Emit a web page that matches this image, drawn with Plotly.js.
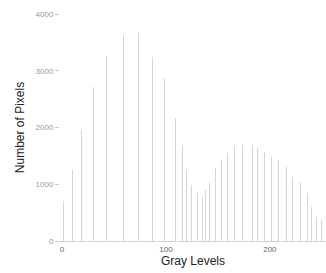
<!DOCTYPE html>
<html>
<head>
<meta charset="utf-8">
<script src="https://cdn.plot.ly/plotly-3.0.1.min.js"></script>
<style>html,body{margin:0;padding:0;background:#fff;}#chart{width:326px;height:273px;}</style>
</head>
<body>
<div id="chart"></div>
<script>
// Gray levels where histogram lines appear
var grayLevels = [1, 10, 19, 30, 43, 59, 74, 87, 99, 109, 116, 120, 125, 130, 135, 138, 142, 148, 153, 159, 166, 174, 183, 188, 195, 202, 208, 216, 222, 229, 236, 240, 245, 250];
// Number of pixels at each gray level
var pixelCounts = [700, 1250, 1950, 2710, 3260, 3630, 3660, 3240, 2870, 2170, 1690, 1250, 990, 845, 775, 900, 1020, 1285, 1430, 1550, 1670, 1690, 1690, 1640, 1570, 1480, 1430, 1300, 1130, 1040, 845, 600, 420, 370];
var xTickVals = [0, 100, 200];
var yTickVals = [0, 1000, 2000, 3000, 4000];

var trace = {
  type: 'bar',
  x: grayLevels,
  y: pixelCounts,
  width: 1,
  marker: {color: '#d6d6d6', line: {width: 0}},
  hoverinfo: 'none'
};

var layout = {
  width: 326, height: 273,
  margin: {l: 60, r: 0, t: 14, b: 32},
  paper_bgcolor: '#fff', plot_bgcolor: '#fff',
  showlegend: false,
  font: {family: 'Liberation Sans, Arial, sans-serif', color: '#999'},
  xaxis: {
    range: [-2, 254],
    tickvals: xTickVals,
    ticks: '', showgrid: false, zeroline: false,
    showline: true, linecolor: '#d0d0d0', linewidth: 1,
    tickfont: {size: 8, color: '#666'},
    ticklabelstandoff: 0,
    title: {text: 'Gray Levels', font: {size: 12, color: '#222'}, standoff: 1}
  },
  yaxis: {
    range: [0, 4000],
    tickvals: yTickVals,
    ticks: 'outside', ticklen: 4, tickcolor: '#ccc',
    showgrid: false, zeroline: false, showline: false,
    tickfont: {size: 8, color: '#999'},
    title: {text: 'Number of Pixels', font: {size: 12, color: '#222'}, standoff: 8}
  },
  bargap: 0
};

Plotly.newPlot('chart', [trace], layout, {staticPlot: true, displayModeBar: false});
</script>
</body>
</html>
